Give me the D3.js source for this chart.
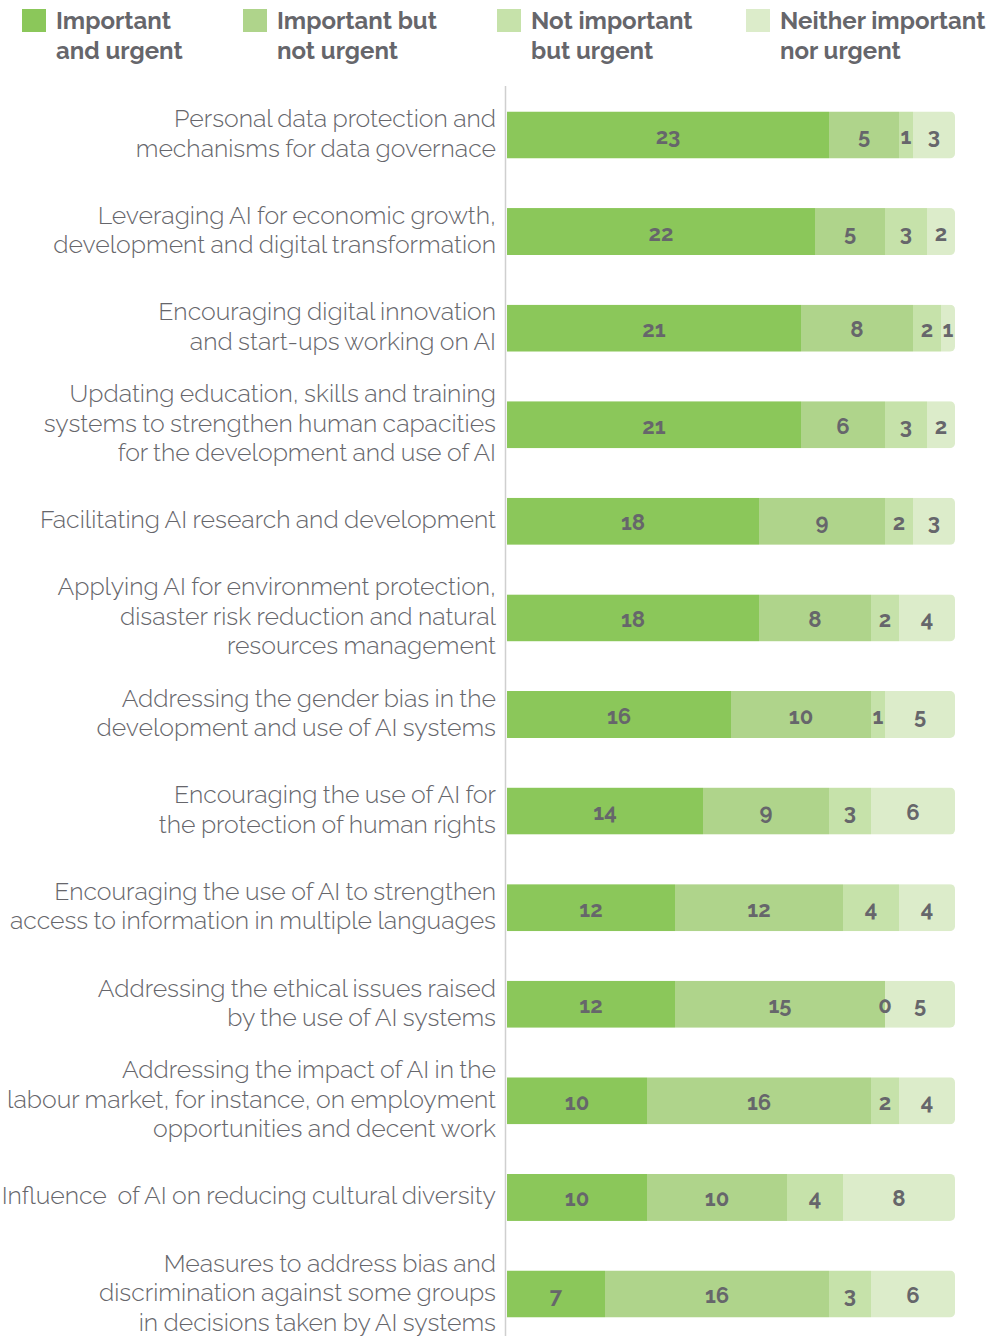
<!DOCTYPE html>
<meta charset="utf-8">
<style>
  body { margin: 0; background: #fff; }
  text { font-family: Raleway, Lato, "Open Sans", sans-serif; fill: #66666b; white-space: pre; }
</style>
<body>
  <div id="chart"></div>
  <script src="https://d3js.org/d3.v7.min.js"></script>
  <script>
    // categories (each line of a label is kept as it appears)
    var categories = [
      ["Personal data protection and", "mechanisms for data governace"],
      ["Leveraging AI for economic growth,", "development and digital transformation"],
      ["Encouraging digital innovation", "and start-ups working on AI"],
      ["Updating education, skills and training", "systems to strengthen human capacities", "for the development and use of AI"],
      ["Facilitating AI research and development"],
      ["Applying AI for environment protection,", "disaster risk reduction and natural", "resources management"],
      ["Addressing the gender bias in the", "development and use of AI systems"],
      ["Encouraging the use of AI for", "the protection of human rights"],
      ["Encouraging the use of AI to strengthen", "access to information in multiple languages"],
      ["Addressing the ethical issues raised", "by the use of AI systems"],
      ["Addressing the impact of AI in the", "labour market, for instance, on employment", "opportunities and decent work"],
      ["Influence  of AI on reducing cultural diversity"],
      ["Measures to address bias and", "discrimination against some groups", "in decisions taken by AI systems"]
    ];

    var seriesNames = [
      ["Important", "and urgent"],
      ["Important but", "not urgent"],
      ["Not important", "but urgent"],
      ["Neither important", "nor urgent"]
    ];

    var importantUrgent    = [23, 22, 21, 21, 18, 18, 16, 14, 12, 12, 10, 10, 7];
    var importantNotUrgent = [5, 5, 8, 6, 9, 8, 10, 9, 12, 15, 16, 10, 16];
    var notImportantUrgent = [1, 3, 2, 3, 2, 2, 1, 3, 4, 0, 2, 4, 3];
    var neither            = [3, 2, 1, 2, 3, 4, 5, 6, 4, 5, 4, 8, 6];

    var colors = ["#8bc75a", "#afd48b", "#c6e2aa", "#dcecca"];

    var series = [importantUrgent, importantNotUrgent, notImportantUrgent, neither];
    var rows = categories.map(function(c, i) {
      return { id: i, lines: c, values: series.map(function(s) { return s[i]; }) };
    });

    var width = 996, height = 1336;

    var svg = d3.select("#chart").append("svg")
      .attr("width", width)
      .attr("height", height);

    var total = d3.max(rows, function(d) { return d3.sum(d.values); });

    var x = d3.scaleLinear()
      .domain([0, total])
      .range([507, 955]);

    var y = d3.scaleBand()
      .domain(rows.map(function(d) { return d.id; }))
      .range([86.7, 1342.3])
      .paddingInner(0.513)
      .paddingOuter(0.2565);

    // legend
    var legendX = [22, 243, 497, 746];
    var legend = svg.selectAll(".legend")
      .data(seriesNames)
      .enter().append("g")
      .attr("class", "legend")
      .attr("transform", function(d, i) { return "translate(" + legendX[i] + ",9)"; });

    legend.append("rect")
      .attr("width", 24)
      .attr("height", 23)
      .style("fill", function(d, i) { return colors[i]; });

    legend.append("text")
      .style("font-size", "24px")
      .style("font-weight", 700)
      .selectAll("tspan")
      .data(function(d) { return d; })
      .enter().append("tspan")
      .attr("x", 34)
      .attr("y", function(d, i) { return 20 + i * 30; })
      .text(function(d) { return d; });

    // axis line
    svg.append("line")
      .attr("x1", 505.5).attr("x2", 505.5)
      .attr("y1", 86).attr("y2", height)
      .style("stroke", "#cfcfcf")
      .style("stroke-width", 1.5);

    // clip paths give the rounded right end of each bar
    var defs = svg.append("defs");
    defs.selectAll("clipPath")
      .data(rows)
      .enter().append("clipPath")
      .attr("id", function(d) { return "clip" + d.id; })
      .append("rect")
      .attr("x", x(0) - 10)
      .attr("y", function(d) { return y(d.id); })
      .attr("width", function(d) { return x(d3.sum(d.values)) - x(0) + 10; })
      .attr("height", y.bandwidth())
      .attr("rx", 5);

    var row = svg.selectAll(".row")
      .data(rows)
      .enter().append("g")
      .attr("class", "row");

    var segs = row.selectAll(".seg")
      .data(function(d) {
        var acc = 0;
        return d.values.map(function(v, i) {
          var s = { row: d.id, i: i, v: v, x0: acc, x1: acc + v };
          acc += v;
          return s;
        });
      })
      .enter();

    segs.append("rect")
      .attr("class", "seg")
      .attr("clip-path", function(d) { return "url(#clip" + d.row + ")"; })
      .attr("x", function(d) { return x(d.x0); })
      .attr("y", function(d) { return y(d.row); })
      .attr("width", function(d) { return x(d.x1) - x(d.x0); })
      .attr("height", y.bandwidth())
      .style("fill", function(d) { return colors[d.i]; });

    segs.append("text")
      .attr("x", function(d) { return (x(d.x0) + x(d.x1)) / 2; })
      .attr("y", function(d) { return y(d.row) + y.bandwidth() / 2 + 9; })
      .attr("text-anchor", "middle")
      .style("font-size", "22px")
      .style("font-weight", 700)
      .text(function(d) { return d.v; });

    // category labels
    row.append("text")
      .attr("text-anchor", "end")
      .style("font-size", "24.8px")
      .style("font-weight", 300)
      .style("word-spacing", "-1px")
      .each(function(d) {
        var n = d.lines.length;
        var cy = y(d.id) + y.bandwidth() / 2;
        d3.select(this).selectAll("tspan")
          .data(d.lines)
          .enter().append("tspan")
          .attr("x", 496)
          .attr("y", function(l, i) { return cy + (i - (n - 1) / 2) * 29.5 + 7; })
          .text(function(l) { return l; });
      });
  </script>
</body>
